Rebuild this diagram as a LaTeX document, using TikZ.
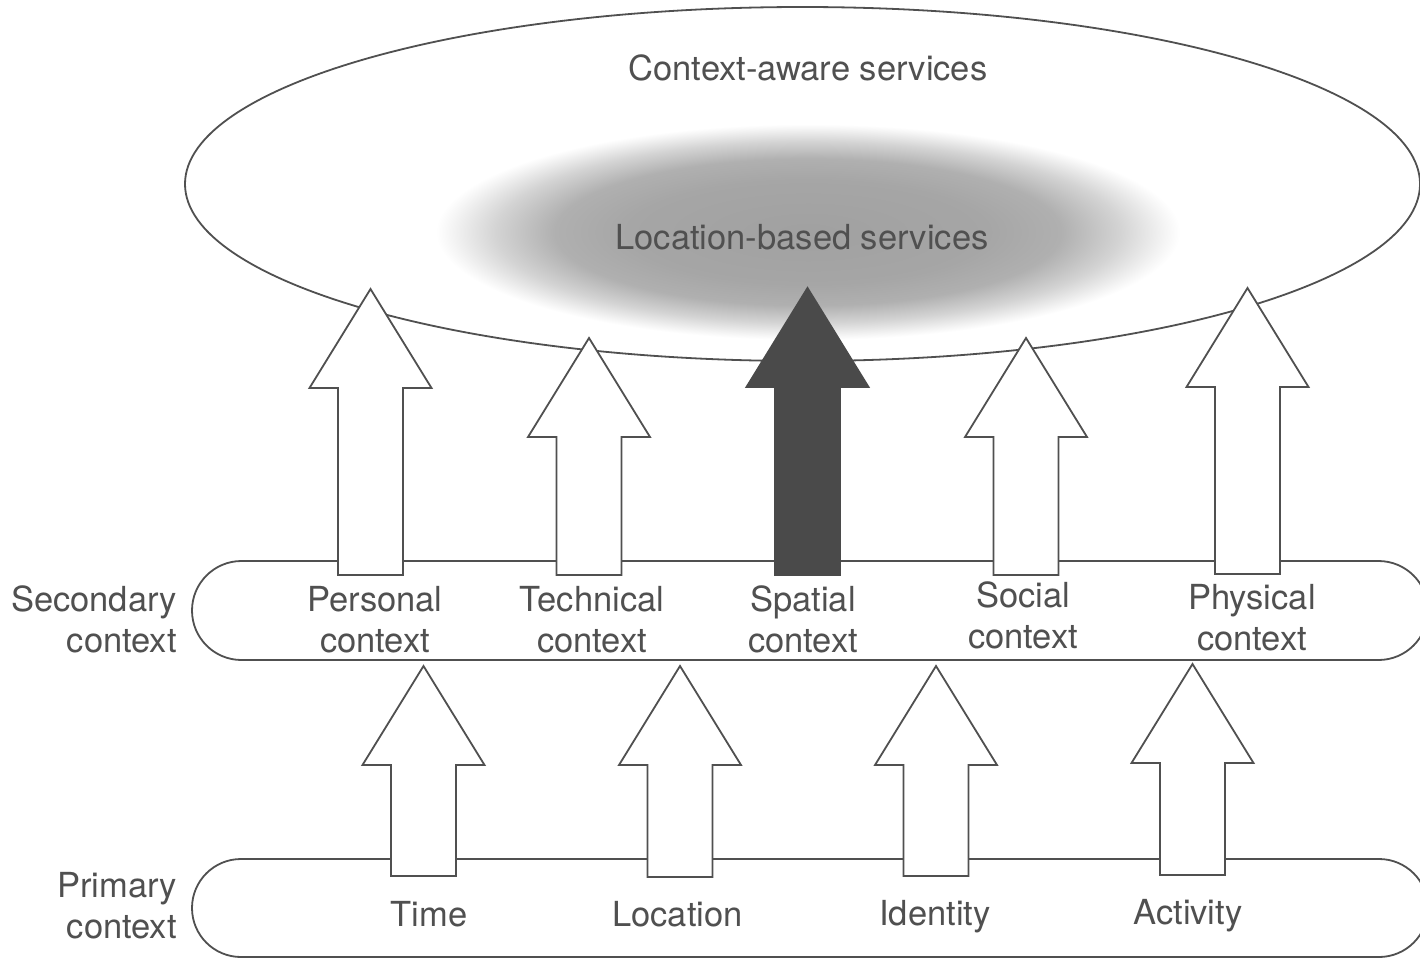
\documentclass[tikz,border=0pt]{standalone}
\usepackage{fontspec}
\setmainfont{TeX Gyre Heros}
\usetikzlibrary{shapes.misc,shapes.geometric,calc}
\definecolor{ink}{HTML}{505050}
\definecolor{darkfill}{HTML}{4A4A4A}
\pgfdeclareradialshading{lbsglow}{\pgfpoint{0bp}{0bp}}{color(0bp)=(black!37); color(12bp)=(black!35); color(17bp)=(black!31); color(21bp)=(black!17); color(24bp)=(black!4); color(25bp)=(white); color(50bp)=(white)}
\newcommand\blkarrow[3]{% #1 style, #2 base coordinate, #3 tip coordinate
  \draw[#1] let \p1=(#2), \p2=(#3) in
    (\x1-32.5pt,\y1) -- (\x1-32.5pt,\y2-99pt) -- (\x1-61pt,\y2-99pt) -- (\x2,\y2)
    -- (\x1+61pt,\y2-99pt) -- (\x1+32.5pt,\y2-99pt) -- (\x1+32.5pt,\y1) -- cycle;}
\tikzset{
  outline/.style={draw=ink, line width=1.8pt},
  whitearrow/.style={draw=ink, line width=1.8pt, fill=white, line join=miter},
  darkarrow/.style={draw=darkfill, line width=1.8pt, fill=darkfill, line join=miter},
  lbl/.style={text=ink, font=\fontsize{34.5}{40.5}\selectfont, inner sep=0pt, align=center},
}
\begin{document}
\begin{tikzpicture}[x=1pt,y=-1pt]
\useasboundingbox (0,0) rectangle (1420,958);
\fill[white] (0,0) rectangle (1420,958);
% glow of location-based services
\shade[shading=lbsglow] (808,232) ellipse [x radius=372, y radius=108];
% context-aware services ellipse
\node[outline, ellipse, inner sep=0pt, minimum width=1235pt, minimum height=354pt] (cas) at (802.5,184) {};
% secondary and primary context bands
\node[outline, rounded rectangle, inner sep=0pt, minimum width=1236pt, minimum height=99pt] (sec) at (810,610.5) {};
\node[outline, rounded rectangle, inner sep=0pt, minimum width=1236pt, minimum height=98pt] (prim) at (810,908) {};
% arrow end points
\coordinate (pb) at (370.5,575); \coordinate (pt) at (370.5,289);
\coordinate (tb) at (589,575);   \coordinate (tt) at (589,338);
\coordinate (sb) at (807.5,575); \coordinate (st) at (807.5,288);
\coordinate (ob) at (1026,575);  \coordinate (ot) at (1026,338);
\coordinate (hb) at (1247.5,574); \coordinate (ht) at (1247.5,288);
\coordinate (ib) at (423.5,876); \coordinate (it) at (423.5,666);
\coordinate (lb) at (680,877);   \coordinate (lt) at (680,666);
\coordinate (db) at (936,876);   \coordinate (dt) at (936,666);
\coordinate (ab) at (1192.5,875); \coordinate (at) at (1192.5,664);
\blkarrow{whitearrow}{pb}{pt}
\blkarrow{whitearrow}{tb}{tt}
\blkarrow{darkarrow}{sb}{st}
\blkarrow{whitearrow}{ob}{ot}
\blkarrow{whitearrow}{hb}{ht}
\blkarrow{whitearrow}{ib}{it}
\blkarrow{whitearrow}{lb}{lt}
\blkarrow{whitearrow}{db}{dt}
\blkarrow{whitearrow}{ab}{at}
% texts (base anchor = baseline of the last line)
\node[lbl, anchor=base] (cast) at (808,81) {Context-aware services};
\node[lbl, anchor=base] (lbst) at (802,249) {Location-based services};
\node[lbl, anchor=base east, align=right] (seclbl) at (177,652) {Secondary\\context};
\node[lbl, anchor=base east, align=right] (primlbl) at (177,938) {Primary\\context};
\node[lbl, anchor=base] (pers) at (375,652) {Personal\\context};
\node[lbl, anchor=base] (tech) at (592,652) {Technical\\context};
\node[lbl, anchor=base] (spat) at (803,652) {Spatial\\context};
\node[lbl, anchor=base] (soc) at (1023,648) {Social\\context};
\node[lbl, anchor=base] (phys) at (1252,650) {Physical\\context};
\node[lbl, anchor=base] (time) at (429,926) {Time};
\node[lbl, anchor=base] (loc) at (677.5,926) {Location};
\node[lbl, anchor=base] (iden) at (935,925) {Identity};
\node[lbl, anchor=base] (act) at (1188,924) {Activity};
\end{tikzpicture}
\end{document}
